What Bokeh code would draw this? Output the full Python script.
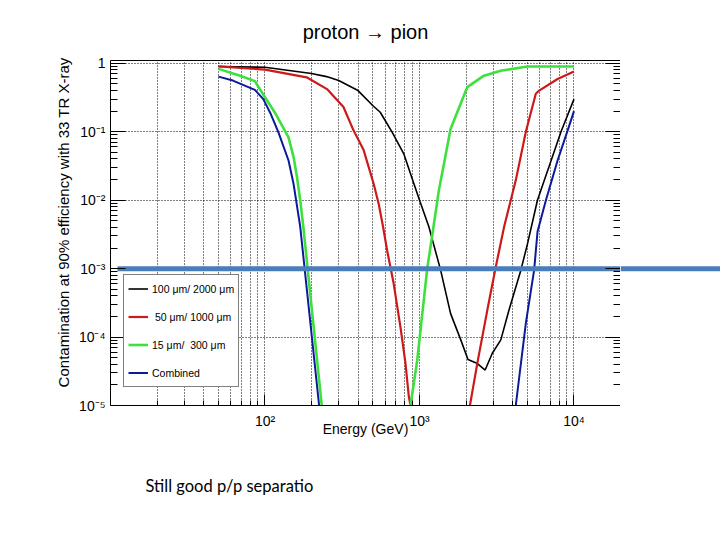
import math
from bokeh.plotting import figure
from bokeh.layouts import row
from bokeh.models import (LogAxis, FixedTicker, CustomJSTickFormatter, Legend, LegendItem,
                          Title, Range1d)
from bokeh.embed import file_html
from bokeh.resources import INLINE

nan = float("nan")

# ---------------- data ----------------
energy_black = [50, 100, 200, 250, 300, 400, 500, 557, 665, 790, 920, 1010, 1150, 1370,
                1590, 1850, 2060, 2370, 2660, 2960, 3360, 3800, 4530, 5000, 5800, 8240, 10000]
cont_black = [0.90, 0.875, 0.71, 0.64, 0.56, 0.40, 0.24, 0.193, 0.099, 0.048, 0.0174, 0.0094,
              0.0041, 9.5e-4, 2.2e-4, 9.1e-5, 4.7e-5, 4.1e-5, 3.3e-5, 5.8e-5, 9.1e-5, 2.5e-4,
              9.5e-4, 2.3e-3, 0.0100, 0.100, 0.30]

energy_red = [50, 100, 186, 252, 322, 374, 435, 505, 544, 581, 617, 681, 753, 811, 853, 875, nan,
              2120, 2370, 2750, 3120, 3530, 4200, 4880, 5660, 5950, 7830, 10000]
cont_red = [0.90, 0.81, 0.625, 0.42, 0.23, 0.105, 0.054, 0.0174, 0.0089, 0.0041, 1.86e-3, 6.0e-4,
            1.4e-4, 4.2e-5, 1.35e-5, 1.0e-5, nan,
            1.0e-5, 4.2e-5, 2.5e-4, 1.07e-3, 4.1e-3, 0.0195, 0.100, 0.36, 0.40, 0.59, 0.76]

energy_green = [50, 69, 86, 100, 116, 142, 153, 161, 169, 177, 233, nan,
                875, 967, 1122, 1222, 1334, 1589, 2040, 2614, 3357, 5000, 10000]
cont_green = [0.83, 0.66, 0.55, 0.32, 0.19, 0.083, 0.043, 0.022, 0.010, 0.0041, 1.0e-5, nan,
              1.0e-5, 4.6e-5, 1.0e-3, 3.6e-3, 0.0138, 0.11, 0.45, 0.66, 0.78, 0.90, 0.90]

energy_blue = [50, 62, 86, 97.5, 108, 122, 142, 153, 169, 224, nan,
               4200, 4880, 5520, 5810, 6580, 7830, 9100, 10000]
cont_blue = [0.64, 0.56, 0.41, 0.30, 0.19, 0.099, 0.038, 0.0174, 0.0041, 1.0e-5, nan,
             1.0e-5, 1.6e-4, 9.5e-4, 3.5e-3, 0.0100, 0.038, 0.105, 0.20]

series_labels = ["100 \u03bcm/ 2000 \u03bcm", " 50 \u03bcm/ 1000 \u03bcm",
                 "15 \u03bcm/  300 \u03bcm", "Combined"]

x_major_ticks = [100, 1000, 10000]
y_major_ticks = [1e-5, 1e-4, 1e-3, 1e-2, 1e-1, 1]
threshold = 1e-3

title_text = "proton \u2192 pion"
x_title = "Energy (GeV)"
y_title = "Contamination at 90% efficiency with 33 TR X-ray"
note_text = "Still good p/p separatio"

# ---------------- layout ----------------
W, H = 720, 540
FL, FR, FT, FB = 110, 620, 60, 405
X0, X1 = 10, 2e4
Y0, Y1 = 1e-5, 1.1


def page_x_to_data(px):
    lx = math.log10(X0) + (px - FL) / (FR - FL) * (math.log10(X1) - math.log10(X0))
    return 10 ** lx


FONT = "Liberation Sans"
BAR_COLOR = "#4a7ebb"

p = figure(width=FR, height=H, x_axis_type="log", y_axis_type="log",
           x_range=Range1d(X0, X1), y_range=Range1d(Y0, Y1),
           output_backend="svg", toolbar_location=None,
           min_border_left=FL, min_border_right=0,
           min_border_top=FT, min_border_bottom=H - FB)
p.outline_line_color = None
p.background_fill_color = "white"
p.border_fill_color = "white"

p.title.text = title_text
p.title.align = "center"
p.title.vertical_align = "top"
p.title.text_font = FONT
p.title.text_font_size = "20px"
p.title.text_font_style = "normal"
p.title.text_color = "black"
p.title.standoff = 32

x_minor = [m * d for d in (10, 100, 1000, 10000) for m in range(2, 10)]
y_minor = [m * d for d in (1e-5, 1e-4, 1e-3, 1e-2, 1e-1) for m in range(2, 10)]

sup_code = """
const sup = {"-": "\u207b", "0": "\u2070", "1": "\u00b9", "2": "\u00b2", "3": "\u00b3",
             "4": "\u2074", "5": "\u2075", "6": "\u2076", "7": "\u2077", "8": "\u2078", "9": "\u2079"};
const e = Math.round(Math.log10(tick));
if (e === 0) { return "1"; }
let s = "";
for (const c of String(e)) { s += sup[c]; }
return "10" + s;
"""
fmt = CustomJSTickFormatter(code=sup_code)

xt = FixedTicker(ticks=x_major_ticks, minor_ticks=x_minor)
yt = FixedTicker(ticks=y_major_ticks, minor_ticks=y_minor)

xa = p.xaxis[0]
xa.ticker = xt
xa.formatter = fmt
xa.major_tick_in, xa.major_tick_out = 11, 0
xa.minor_tick_in, xa.minor_tick_out = 5, 0
xa.axis_line_color = "black"
xa.major_tick_line_color = "black"
xa.minor_tick_line_color = "black"
xa.major_label_text_font = FONT
xa.major_label_text_font_size = "14px"
xa.major_label_text_color = "black"
xa.major_label_standoff = 7
xa.axis_label = x_title
xa.axis_label_text_font = FONT
xa.axis_label_text_font_size = "14px"
xa.axis_label_text_font_style = "normal"
xa.axis_label_text_color = "black"
xa.axis_label_standoff = -11

ya = p.yaxis[0]
ya.ticker = yt
ya.formatter = fmt
ya.major_tick_in, ya.major_tick_out = 15, 0
ya.minor_tick_in, ya.minor_tick_out = 7, 0
ya.axis_line_color = "black"
ya.major_tick_line_color = "black"
ya.minor_tick_line_color = "black"
ya.major_label_text_font = FONT
ya.major_label_text_font_size = "14px"
ya.major_label_text_color = "black"
ya.major_label_standoff = 5

ra = LogAxis(ticker=yt, formatter=fmt)
ra.major_tick_in, ra.major_tick_out = 15, 0
ra.minor_tick_in, ra.minor_tick_out = 7, 0
ra.axis_line_color = None
ra.major_tick_line_color = "black"
ra.minor_tick_line_color = "black"
ra.major_label_text_font_size = "0px"
ra.major_label_text_color = None
ra.major_label_standoff = 0
p.add_layout(ra, "right")

ta = LogAxis(ticker=FixedTicker(ticks=[]))
ta.major_tick_in, ta.major_tick_out = 0, 0
ta.minor_tick_in, ta.minor_tick_out = 0, 0
ta.axis_line_color = "black"
ta.major_label_text_font_size = "0px"
ta.major_label_text_color = None
ta.major_label_standoff = 0
p.add_layout(ta, "above")

p.xgrid.grid_line_color = "black"
p.xgrid.grid_line_dash = "1 2"
p.xgrid.grid_line_width = 1
p.xgrid.minor_grid_line_color = "black"
p.xgrid.minor_grid_line_dash = "1 2"
p.xgrid.minor_grid_line_width = 1
p.ygrid.grid_line_color = "black"
p.ygrid.grid_line_dash = "1 2"
p.ygrid.grid_line_width = 1
p.ygrid.minor_grid_line_color = None

r_black = p.line(energy_black, cont_black, line_color="black", line_width=1.6)
r_red = p.line(energy_red, cont_red, line_color="#cc1a1a", line_width=2.2)
r_green = p.line(energy_green, cont_green, line_color="#3ee03e", line_width=2.6)
r_blue = p.line(energy_blue, cont_blue, line_color="#0b1a9a", line_width=2.0)

# thick threshold bar at 1e-3, from near the left axis to the frame edge
p.line([page_x_to_data(117), X1], [threshold, threshold], line_color=BAR_COLOR, line_width=5)

legend = Legend(items=[LegendItem(label=series_labels[0], renderers=[r_black]),
                       LegendItem(label=series_labels[1], renderers=[r_red]),
                       LegendItem(label=series_labels[2], renderers=[r_green]),
                       LegendItem(label=series_labels[3], renderers=[r_blue])],
                location=(13, 18))
legend.label_text_font = FONT
legend.label_text_font_size = "10.5px"
legend.label_text_color = "black"
legend.label_standoff = 4
legend.glyph_width = 20
legend.glyph_height = 19
legend.label_height = 19
legend.spacing = 9
legend.padding = 4
legend.margin = 0
legend.border_line_color = "black"
legend.border_line_width = 1
legend.background_fill_color = "white"
legend.background_fill_alpha = 1
p.add_layout(legend)

# y title (left border) and footnote (bottom border)
p.add_layout(Title(text=y_title, align="right", offset=-3, standoff=8,
                   text_font=FONT, text_font_size="15px", text_font_style="normal",
                   text_color="black"), "left")
p.add_layout(Title(text=note_text, align="left", offset=35, standoff=72, vertical_align="top",
                   text_font="Lato", text_font_size="16.5px", text_font_style="normal",
                   text_color="black"), "below")

# strip to the right of the frame: the bar continues to the page edge
p2 = figure(width=W - FR, height=H, title=None, x_range=Range1d(0, 1), y_range=p.y_range,
            y_axis_type="log", x_axis_location=None, y_axis_location=None,
            output_backend="svg", toolbar_location=None,
            min_border_left=0, min_border_right=0,
            min_border_top=FT, min_border_bottom=H - FB)
p2.outline_line_color = None
p2.grid.visible = False
p2.background_fill_color = "white"
p2.border_fill_color = "white"
p2.line([p2.x_range.start, p2.x_range.end], [threshold, threshold],
        line_color=BAR_COLOR, line_width=5)

layout = row(p, p2, spacing=0)
open("out.html", "w").write(file_html(layout, INLINE))
